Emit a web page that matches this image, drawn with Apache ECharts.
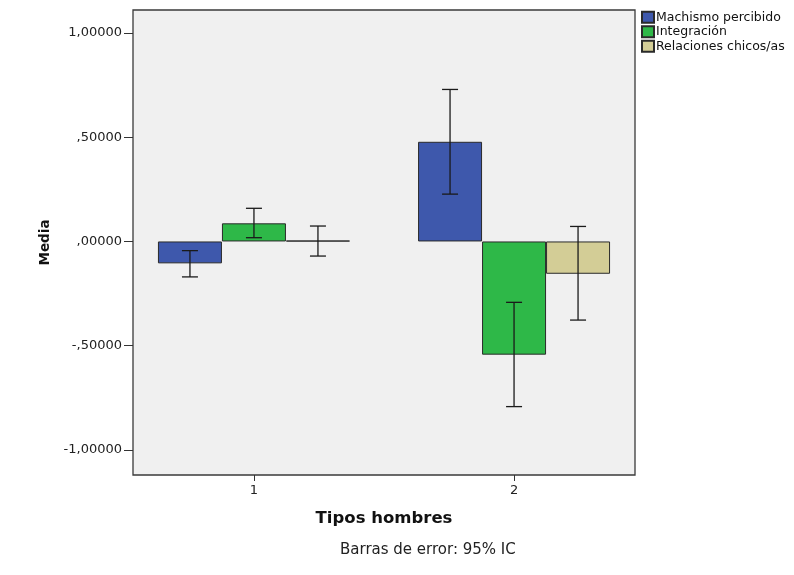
<!DOCTYPE html>
<html><head><meta charset="utf-8">
<script src="https://cdn.jsdelivr.net/npm/echarts@6/dist/echarts.min.js"></script>
<style>html,body{margin:0;padding:0;background:#fff}#c{width:794px;height:575px}</style>
</head><body><div id="c"></div>
<script>
const categories = [1, 2];
const seriesNames = ['Machismo percibido', 'Integración', 'Relaciones chicos/as'];
const means = [
  [-0.105, 0.478],
  [0.087, -0.543],
  [0.004, -0.155]
];
const ciLow = [
  [-0.170, 0.227],
  [0.018, -0.792],
  [-0.070, -0.377]
];
const ciHigh = [
  [-0.044, 0.729],
  [0.159, -0.292],
  [0.074, 0.072]
];
const yTicks = [-1, -0.5, 0, 0.5, 1];
const colors = ['#3E58AC', '#2EB848', '#D3CD96'];
const BAR_W = 64;
const FONT = 'DejaVu Sans, Verdana, sans-serif';

function fmt(v) {
  let s = Math.abs(v).toFixed(5).replace('.', ',');
  if (s.startsWith('0,')) s = s.slice(1);
  return (v < 0 ? '-' : '') + s;
}

const series = [];
seriesNames.forEach((name, i) => {
  series.push({
    name, type: 'bar', barWidth: BAR_W, barGap: '0%',
    data: categories.map((c, j) => [c, means[i][j]]),
    itemStyle: { color: colors[i], borderColor: '#2a2a2a', borderWidth: 1 },
    emphasis: { disabled: true }
  });
});
const errData = [];
seriesNames.forEach((name, i) => {
  categories.forEach((c, j) => errData.push([c, ciLow[i][j], ciHigh[i][j], i]));
});
series.push({
  type: 'custom', name: 'err', z: 10,
  data: errData,
  renderItem: function (params, api) {
    const c = api.value(0);
    const lo = api.coord([c, api.value(1)]);
    const hi = api.coord([c, api.value(2)]);
    const x = lo[0] + (api.value(3) - 1) * BAR_W;
    const hw = 8;
    const st = { stroke: '#1a1a1a', lineWidth: 1.3 };
    return { type: 'group', children: [
      { type: 'line', shape: { x1: x, y1: lo[1], x2: x, y2: hi[1] }, style: st },
      { type: 'line', shape: { x1: x - hw, y1: lo[1], x2: x + hw, y2: lo[1] }, style: st },
      { type: 'line', shape: { x1: x - hw, y1: hi[1], x2: x + hw, y2: hi[1] }, style: st }
    ]};
  }
});

const chart = echarts.init(document.getElementById('c'), null, { renderer: 'canvas' });
chart.setOption({
  animation: false,
  backgroundColor: '#fff',
  textStyle: { fontFamily: FONT },
  grid: { left: 133, right: 159, top: 10, bottom: 100, show: true,
          backgroundColor: '#F0F0F0', borderColor: '#3a3a3a', borderWidth: 1.3 },
  legend: {
    data: seriesNames, orient: 'vertical', left: 641, top: 10, padding: 0,
    itemWidth: 12, itemHeight: 11, itemGap: 0, icon: 'rect',
    textStyle: { fontSize: 12.5, lineHeight: 14.5, color: '#111', fontFamily: FONT, padding: [0, 0, 0, -3] }
  },
  xAxis: {
    type: 'value', min: 0.535, max: 2.465,
    name: 'Tipos hombres', nameLocation: 'middle', nameGap: 35,
    nameTextStyle: { fontSize: 16.5, fontWeight: 'bold', color: '#111', fontFamily: FONT },
    axisLine: { show: false, onZero: false },
    axisTick: { show: true, length: 6, lineStyle: { color: '#333' }, customValues: categories },
    axisLabel: { customValues: categories, fontSize: 13, color: '#222', margin: 9 },
    splitLine: { show: false }
  },
  yAxis: {
    type: 'value', min: -1.12, max: 1.11,
    name: 'Media', nameLocation: 'middle', nameGap: 81,
    nameTextStyle: { fontSize: 13.5, fontWeight: 'bold', color: '#111', fontFamily: FONT },
    axisLine: { show: false, onZero: false },
    axisTick: { show: true, length: 9, lineStyle: { color: '#333' }, customValues: yTicks },
    axisLabel: { customValues: yTicks, fontSize: 13, color: '#222', margin: 11, formatter: fmt },
    splitLine: { show: false }
  },
  graphic: [{
    type: 'text', left: 340, top: 543,
    style: { text: 'Barras de error: 95% IC', fontSize: 15, fill: '#222', fontFamily: FONT }
  }],
  series
});
</script></body></html>
